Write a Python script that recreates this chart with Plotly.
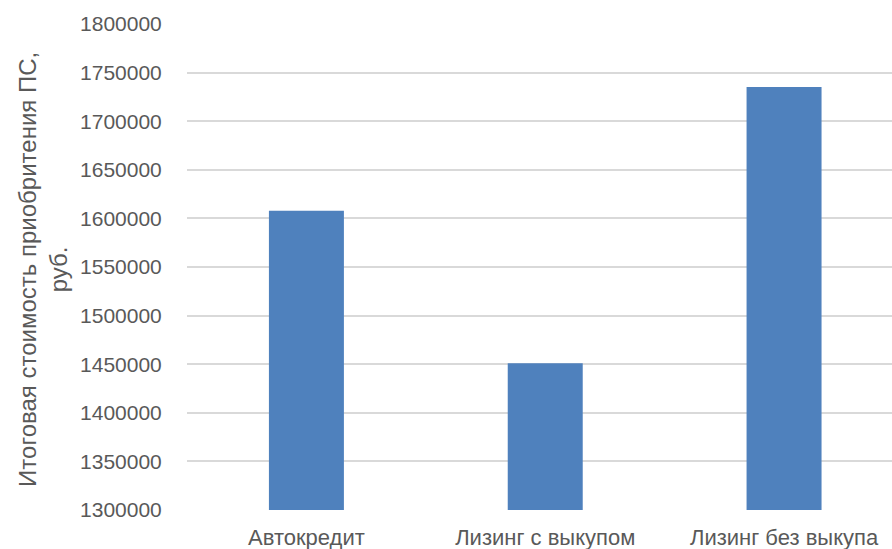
import plotly.graph_objects as go

categories = ["Автокредит", "Лизинг с выкупом", "Лизинг без выкупа"]
values = [1607800, 1451000, 1735100]
y_title = "Итоговая стоимость приобритения ПС,<br>руб."

FONT = "Liberation Sans"
TXT = "#595959"

fig = go.Figure(go.Bar(
    x=categories, y=values, marker=dict(color="#4F81BD", line=dict(width=0)),
    width=0.314,
))
fig.update_layout(
    width=892, height=549,
    margin=dict(l=187, r=0, t=24, b=39),
    plot_bgcolor="white", paper_bgcolor="white",
    showlegend=False,
    font=dict(family=FONT, size=21, color=TXT),
)
fig.update_xaxes(
    range=[-0.5, 2.452], showgrid=False, showline=False, zeroline=False,
    ticks="outside", ticklen=8, tickcolor="rgba(0,0,0,0)", automargin=False,
    tickfont=dict(family=FONT, size=22, color=TXT),
)
fig.update_yaxes(
    range=[1300000, 1800000], dtick=50000, tickformat="d",
    showgrid=True, gridcolor="#D9D9D9", gridwidth=1.5, zeroline=False,
    ticks="outside", ticklen=20, tickcolor="rgba(0,0,0,0)", automargin=False,
    tickfont=dict(family=FONT, size=21, color=TXT),
)
fig.add_annotation(
    text=y_title, textangle=-90, showarrow=False,
    xref="paper", yref="paper", x=-0.2043, y=0.496,
    xanchor="center", yanchor="middle",
    font=dict(family=FONT, size=24, color=TXT),
)
fig.write_html("out.html")
